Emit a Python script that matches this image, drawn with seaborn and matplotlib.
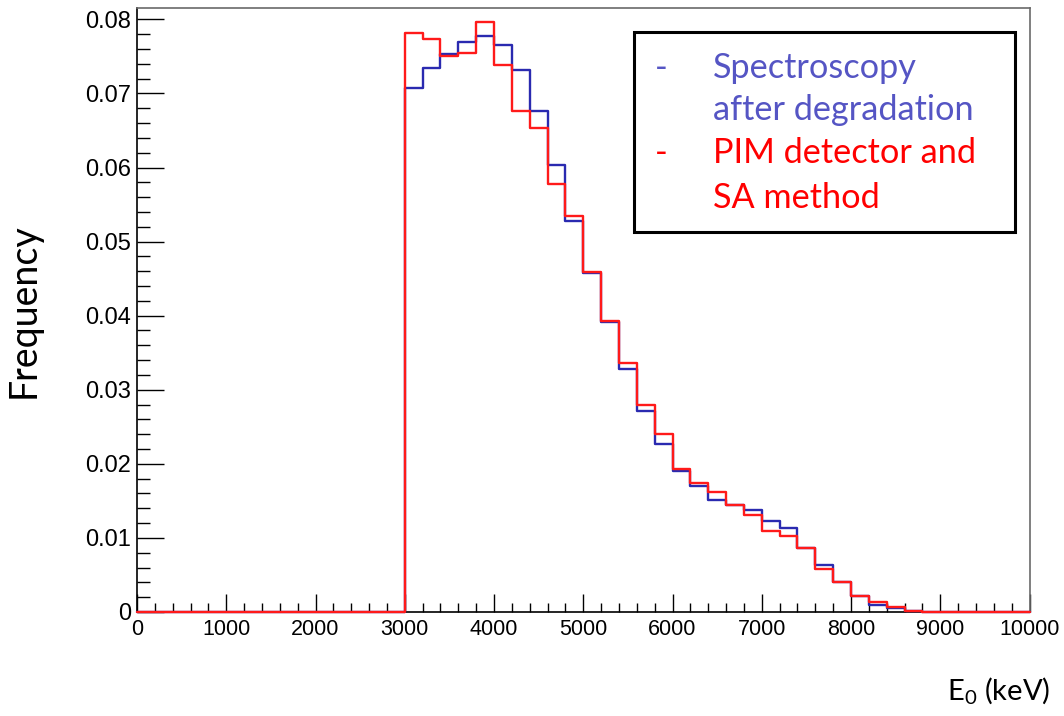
import numpy as np
import pandas as pd
import matplotlib
matplotlib.use("Agg")
import matplotlib.pyplot as plt
from matplotlib.patches import Rectangle
from matplotlib.ticker import MultipleLocator
import seaborn as sns

# ---------------- data ----------------
bin_width = 200
x_range = (0, 10000)
first_bin_start = 3000  # keV, first non-empty bin

spectroscopy = [0.0707, 0.0735, 0.0753, 0.0769, 0.0778, 0.0766, 0.0731, 0.0676,
                0.0604, 0.0528, 0.0458, 0.0392, 0.0328, 0.0272, 0.0227, 0.0191,
                0.0170, 0.0151, 0.0144, 0.0138, 0.0123, 0.0114, 0.0087, 0.0064,
                0.0040, 0.0022, 0.0010, 0.0005, 0.0002]
pim_sa = [0.0781, 0.0774, 0.0751, 0.0755, 0.0797, 0.0738, 0.0676, 0.0653,
          0.0578, 0.0535, 0.0459, 0.0393, 0.0336, 0.0279, 0.0240, 0.0193,
          0.0174, 0.0162, 0.0144, 0.0131, 0.0110, 0.0102, 0.0087, 0.0058,
          0.0040, 0.0022, 0.0014, 0.0007, 0.0002]

x_ticks = [0, 1000, 2000, 3000, 4000, 5000, 6000, 7000, 8000, 9000, 10000]
y_ticks = [0, 0.01, 0.02, 0.03, 0.04, 0.05, 0.06, 0.07, 0.08]
y_tick_labels = ["0", "0.01", "0.02", "0.03", "0.04", "0.05", "0.06", "0.07", "0.08"]

legend_blue = ["Spectroscopy", "after degradation"]
legend_red = ["PIM detector and", "SA method"]

# full-range arrays (zeros outside the populated bins)
bin_edges = np.arange(x_range[0], x_range[1] + 1, bin_width)
centers = bin_edges[:-1] + bin_width / 2
n_bins = len(centers)
start_idx = int(first_bin_start // bin_width)


def full(vals):
    arr = np.zeros(n_bins)
    arr[start_idx:start_idx + len(vals)] = vals
    return arr


df_blue = pd.DataFrame({"E": centers, "w": full(spectroscopy)})
df_red = pd.DataFrame({"E": centers, "w": full(pim_sa)})

# ---------------- figure ----------------
sns.set_theme(style="white")
plt.rcParams["mathtext.fontset"] = "custom"
plt.rcParams["mathtext.rm"] = "Lato"
plt.rcParams["mathtext.it"] = "Lato:italic"

W, H = 1064, 716
fig = plt.figure(figsize=(W / 100, H / 100), dpi=100)
fig.patch.set_facecolor("white")


def fx(px):
    return px / W


def fy(py):
    return 1 - py / H


ax = fig.add_axes([fx(137), fy(612), fx(1029.5) - fx(137), fy(7.5) - fy(612)])
ax.set_facecolor("white")

blue_line = "#2a2ab0"
red_line = "#ff1a1a"

sns.histplot(data=df_blue, x="E", weights="w", binwidth=bin_width, binrange=x_range,
             element="step", fill=False, color=blue_line, linewidth=1.7, ax=ax)
sns.histplot(data=df_red, x="E", weights="w", binwidth=bin_width, binrange=x_range,
             element="step", fill=False, color=red_line, linewidth=1.7, ax=ax)
for i, ln in enumerate(ax.lines):
    ln.set_clip_on(False)
    ln.set_zorder(5 + i)

ax.set_xlim(*x_range)
ax.set_ylim(0, 0.0816)
ax.set_xlabel("")
ax.set_ylabel("")

ax.set_xticks(x_ticks)
ax.set_xticklabels([str(t) for t in x_ticks])
ax.set_yticks(y_ticks)
ax.set_yticklabels(y_tick_labels)
ax.xaxis.set_minor_locator(MultipleLocator(200))
ax.yaxis.set_minor_locator(MultipleLocator(0.002))

ax.tick_params(axis="both", which="both", direction="in", color="black",
               bottom=True, left=True, top=False, right=False, width=1.0)
ax.tick_params(axis="x", which="major", length=13, pad=5, labelsize=15.5)
ax.tick_params(axis="x", which="minor", length=6.5)
ax.tick_params(axis="y", which="major", length=19.5, pad=4, labelsize=17)
ax.tick_params(axis="y", which="minor", length=9.7)
for lab in ax.get_xticklabels() + ax.get_yticklabels():
    lab.set_fontfamily("Liberation Sans")
    lab.set_color("black")

for side, sp in ax.spines.items():
    sp.set_visible(True)
    sp.set_linewidth(1.2)
    sp.set_zorder(3)
    sp.set_color("black" if side in ("left", "bottom") else "#6a6a6a")

# axis titles
fig.text(fx(24), fy(311), "Frequency", rotation=90, ha="center", va="center",
         fontsize=27, family="Lato", color="black")
fig.text(fx(1050), fy(699), r"E$_{\mathrm{0}}$ (keV)", ha="right", va="baseline",
         fontsize=21, family="Lato", color="black")

# legend box
fig.patches.append(Rectangle((fx(634), fy(232)), fx(1015) - fx(634), fy(32) - fy(232),
                             transform=fig.transFigure, fill=True, facecolor="white",
                             edgecolor="black", linewidth=2.2, zorder=10))
blue_txt = "#5555c4"
red_txt = "#ff0000"
fs = 24.7
fig.text(fx(655), fy(78), "-", color=blue_txt, fontsize=fs, family="Lato",
         va="baseline", ha="left", zorder=11)
fig.text(fx(713), fy(78), legend_blue[0], color=blue_txt, fontsize=fs, family="Lato",
         va="baseline", ha="left", zorder=11)
fig.text(fx(713), fy(120), legend_blue[1], color=blue_txt, fontsize=fs, family="Lato",
         va="baseline", ha="left", zorder=11)
fig.text(fx(655), fy(163), "-", color=red_txt, fontsize=fs, family="Lato",
         va="baseline", ha="left", zorder=11)
fig.text(fx(713), fy(163), legend_red[0], color=red_txt, fontsize=fs, family="Lato",
         va="baseline", ha="left", zorder=11)
fig.text(fx(713), fy(208), legend_red[1], color=red_txt, fontsize=fs, family="Lato",
         va="baseline", ha="left", zorder=11)

fig.savefig("out.png", dpi=100, facecolor="white")
